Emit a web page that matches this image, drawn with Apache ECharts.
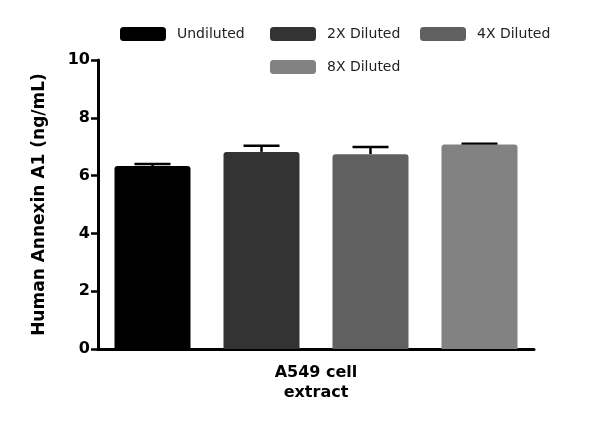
<!DOCTYPE html><html><head><meta charset="utf-8"><script src="https://cdn.jsdelivr.net/npm/echarts@6/dist/echarts.min.js"></script></head><body style="margin:0"><div id="c" style="width:600px;height:442px"></div><script>
const groups=['Undiluted','2X Diluted','4X Diluted','8X Diluted'];
const means=[6.33,6.82,6.74,7.08];
const errs=[0.07,0.21,0.25,0.02];
const colors=['#000000','#333333','#606060','#828282'];
const yTicks=[0,2,4,6,8,10];
const category=['A549 cell\nextract'];
const F='DejaVu Sans';
const series=groups.map((g,i)=>({name:g,type:'bar',stack:'a',xAxisIndex:1,barWidth:76,
 data:groups.map((_,j)=>j===i?means[i]:'-'),itemStyle:{color:colors[i],borderRadius:[3,3,0,0]}}));
series.push({type:'custom',xAxisIndex:1,z:1,data:groups.map((_,i)=>[i,means[i],means[i]+errs[i]]),
 renderItem:(p,api)=>{const a=api.coord([api.value(0),api.value(1)]),b=api.coord([api.value(0),api.value(2)]);
 return {type:'group',children:[{type:'line',shape:{x1:a[0],y1:a[1],x2:b[0],y2:b[1]},style:{stroke:'#000',lineWidth:2.5}},
 {type:'line',shape:{x1:b[0]-18,y1:b[1],x2:b[0]+18,y2:b[1]},style:{stroke:'#000',lineWidth:2.5}}]};}});
const legPos=[[115,22],[265,22],[415,22],[265,55]];
const legend=groups.map((g,i)=>({data:[g],left:legPos[i][0],top:legPos[i][1],itemWidth:46,itemHeight:14,itemGap:0,icon:'roundRect',
 textStyle:{fontFamily:F,fontSize:14,color:'#222',padding:[0,0,0,6]}}));
echarts.init(document.getElementById('c')).setOption({animation:false,legend,
 grid:{left:98,right:66,top:60,bottom:93},
 xAxis:[{type:'category',data:category,axisLine:{lineStyle:{color:'#000',width:3}},axisTick:{length:7,lineStyle:{width:2.5,color:'#000'},alignWithLabel:true},
  axisLabel:{fontFamily:F,fontSize:16,fontWeight:'bold',color:'#000',margin:14,lineHeight:20}},
  {type:'category',data:groups,show:false}],
 yAxis:{type:'value',min:0,max:10,interval:2,name:'Human Annexin A1 (ng/mL)',nameLocation:'middle',nameGap:50,
  nameTextStyle:{fontFamily:F,fontSize:17,fontWeight:'bold',color:'#000'},
  axisLine:{show:true,lineStyle:{color:'#000',width:3}},axisTick:{show:true,length:7,lineStyle:{width:2.5}},splitLine:{show:false},
  axisLabel:{fontFamily:F,fontSize:16,fontWeight:'bold',color:'#000',formatter:v=>yTicks.includes(v)?v:''}},
 series});
</script></body></html>
